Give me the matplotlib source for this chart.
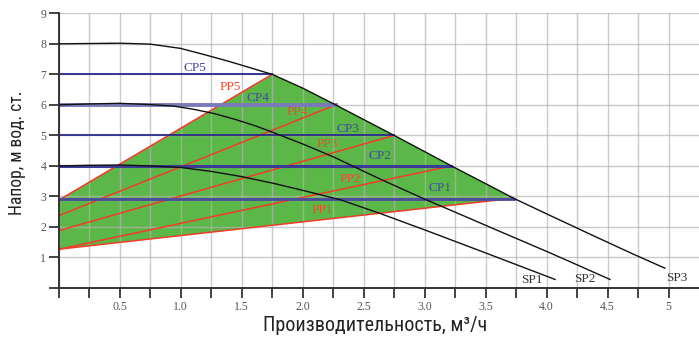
import numpy as np
import matplotlib
matplotlib.use('Agg')
import matplotlib.pyplot as plt
from matplotlib import font_manager

# Pump curves SP1..SP3 (flow, head)
sp1_q = [0, 0.25, 0.5, 0.75, 1.0, 1.25, 1.5, 1.76, 2.0, 2.31, 2.63, 3.03, 3.5, 4.07]
sp1_h = [4.0, 4.02, 4.03, 4.0, 3.95, 3.82, 3.65, 3.43, 3.2, 2.89, 2.45, 1.86, 1.15, 0.28]

sp2_q = [0, 0.25, 0.5, 0.75, 0.94, 1.1, 1.27, 1.45, 1.6, 1.73, 2.0, 2.25, 2.63, 2.99, 3.3, 3.59, 4.0, 4.25, 4.52]
sp2_h = [6.0, 6.03, 6.05, 6.01, 5.96, 5.86, 5.72, 5.52, 5.33, 5.14, 4.72, 4.3, 3.58, 2.93, 2.4, 1.9, 1.2, 0.76, 0.28]

sp3_q = [0, 0.25, 0.5, 0.75, 1.0, 1.2, 1.4, 1.6, 1.75, 2.0, 2.27, 2.5, 2.75, 3.0, 3.22, 3.5, 3.73, 4.0, 4.38, 4.7, 4.97]
sp3_h = [8.0, 8.01, 8.02, 7.99, 7.85, 7.64, 7.42, 7.18, 7.0, 6.55, 6.0, 5.52, 5.0, 4.47, 4.0, 3.42, 2.94, 2.43, 1.72, 1.13, 0.65]

# Proportional pressure lines PP1..PP5: start head at Q=0, end point on SP3
pp_names = ['PP1', 'PP2', 'PP3', 'PP4', 'PP5']
pp_start = [1.27, 1.27, 1.88, 2.37, 2.88]
pp_end_q = [3.73, 3.22, 2.75, 2.27, 1.75]
pp_end_h = [2.94, 4.0, 5.0, 6.0, 7.0]

# Constant pressure lines CP1..CP5
cp_names = ['CP1', 'CP2', 'CP3', 'CP4', 'CP5']
cp_head = [2.93, 4.0, 5.0, 6.0, 7.0]
cp_end_q = [3.73, 3.22, 2.75, 2.27, 1.75]

# Label positions
pp_label_q = [2.16, 2.39, 2.20, 1.96, 1.41]
pp_label_h = [2.56, 3.56, 4.72, 5.78, 6.57]
cp_label_q = [3.13, 2.63, 2.37, 1.63, 1.12]
cp_label_h = [3.27, 4.33, 5.2, 6.24, 7.22]
sp_names = ['SP1', 'SP2', 'SP3']
sp_label_q = [3.88, 4.31, 5.07]
sp_label_h = [0.26, 0.3, 0.34]

x_ticks = np.arange(0, 5.01, 0.25)
x_labels = ['', '', '0.5', '', '1.0', '', '1.5', '', '2.0', '', '2.5', '', '3.0', '',
            '3.5', '', '4.0', '', '4.5', '', '5']
y_ticks = list(range(10))
y_labels = ['', '1', '2', '3', '4', '5', '6', '7', '8', '9']

# Fonts: prefer a narrow sans for the axis titles
names = {f.name for f in font_manager.fontManager.ttflist}
label_font = 'Roboto'
label_size = 13
for cand in ['Roboto Condensed', 'Liberation Sans Narrow']:
    if cand in names:
        label_font = cand
        label_size = 14.5
        break
serif_font = 'Liberation Serif'

fig = plt.figure(figsize=(6.99, 3.38), dpi=100)
ax = fig.add_axes([58.7 / 699, 50 / 338, (699 - 58.7) / 699, (288 - 13.3) / 338])
ax.set_xlim(0, 5.25)
ax.set_ylim(0, 9)

# Grid
ax.set_axisbelow(True)
ax.grid(True, color='#b4b4b4', alpha=0.7, linewidth=1)

# Green working area: PP5 up to SP3, along SP3, back along PP1
top_q = [q for q in sp3_q if pp_end_q[4] <= q <= pp_end_q[0]]
top_h = [h for q, h in zip(sp3_q, sp3_h) if pp_end_q[4] <= q <= pp_end_q[0]]
poly_q = [0] + top_q + [0]
poly_h = [pp_start[4]] + top_h + [pp_start[0]]
ax.fill(poly_q, poly_h, color='#5cb749', zorder=0.4, linewidth=0)

# PP lines
for i in range(5):
    ax.plot([0, pp_end_q[i]], [pp_start[i], pp_end_h[i]], color='#f23c26', linewidth=1.1, zorder=2)
    ax.text(pp_label_q[i], pp_label_h[i], pp_names[i], color='#f04a30', fontsize=9.5,
            family=serif_font, ha='center', va='center', zorder=4)

# CP lines
cp_colors = ['#4a4aa0', '#3c3c98', '#2a2a88', '#7a7ab8', '#2a2a8c']
cp_widths = [2.0, 2.2, 1.3, 2.8, 1.3]
for i in range(5):
    ax.plot([0, cp_end_q[i]], [cp_head[i], cp_head[i]], color=cp_colors[i], linewidth=cp_widths[i], zorder=2.2)
    ax.text(cp_label_q[i], cp_label_h[i], cp_names[i], color='#4646a0', fontsize=9.5,
            family=serif_font, ha='center', va='center', zorder=4)

# SP curves
for q, h in [(sp1_q, sp1_h), (sp2_q, sp2_h), (sp3_q, sp3_h)]:
    ax.plot(q, h, color='#111111', linewidth=1.0, zorder=3)
for i in range(3):
    ax.text(sp_label_q[i], sp_label_h[i], sp_names[i], color='#333333', fontsize=9.5,
            family=serif_font, ha='center', va='center', zorder=4)

# Axes and ticks
for side in ['top', 'right']:
    ax.spines[side].set_visible(False)
for side in ['left', 'bottom']:
    ax.spines[side].set_color('#333333')
    ax.spines[side].set_linewidth(1.4)
ax.set_xticks(x_ticks)
ax.set_xticklabels(x_labels)
ax.set_yticks(y_ticks)
ax.set_yticklabels(y_labels)
ax.tick_params(direction='out', length=7, width=1.3, color='#333333',
               labelcolor='#555555', labelsize=8.5, pad=2)
for lab in ax.get_xticklabels() + ax.get_yticklabels():
    lab.set_family(serif_font)

# Axis titles
fig.text(0.025, 0.547, 'Напор, м вод. ст.', rotation=90, ha='center', va='center',
         fontsize=label_size * 0.87, family=[label_font, 'DejaVu Sans'], color='#222222')
fig.text(0.537, 0.038, 'Производительность, м³/ч', ha='center', va='center',
         fontsize=label_size, family=[label_font, 'DejaVu Sans'], color='#222222')

fig.savefig('out.png', dpi=100)
